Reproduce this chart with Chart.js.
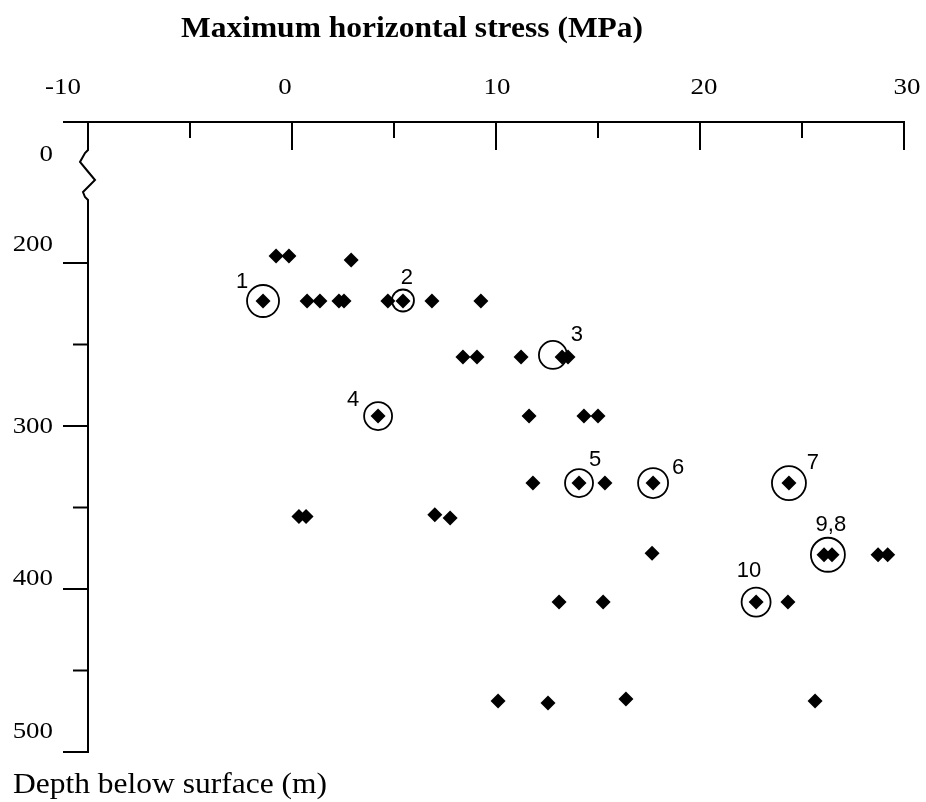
<!DOCTYPE html>
<html><head><meta charset="utf-8">
<script src="https://cdn.jsdelivr.net/npm/chart.js@4.4.1/dist/chart.umd.min.js"></script>
<style>html,body{margin:0;padding:0;background:#fff;} #wrap{width:926px;height:802px;position:relative;}</style>
</head><body><div id="wrap"><canvas id="c"></canvas></div>
<script>
// ---------- data ----------
const stressX = [
  -0.78, -0.15, 2.9,
  -1.42, 0.74, 1.37, 2.3, 2.55, 4.7, 5.44, 6.86, 9.26,
  8.38, 9.07, 11.23, 13.24, 13.53,
  4.22, 11.62, 14.31, 15.0,
  11.81, 14.07, 15.34, 17.70, 24.36,
  0.34, 0.69, 7.0, 7.75,
  17.65, 26.08, 26.47, 28.73, 29.2,
  13.09, 15.25, 22.75, 24.31,
  10.1, 12.55, 16.37, 25.64
];
const depthY = [
  195.7, 195.7, 198.2,
  223.3, 223.3, 223.3, 223.3, 223.3, 223.3, 223.3, 223.3, 223.3,
  257.7, 257.7, 257.7, 257.7, 257.7,
  293.9, 293.9, 293.9, 293.9,
  335, 335, 335, 335, 335,
  355.5, 355.5, 354.5, 356.5,
  378, 379, 379, 379, 379,
  408, 408, 408, 408,
  468.7, 469.9, 467.5, 468.7
];
const circleStress = [-1.42, 5.44, 12.79, 4.22, 14.07, 17.70, 24.36, 26.27, 22.75];
const circleDepth  = [223.3, 223.0, 256.4, 293.9, 335, 335, 335, 379, 408];
const circleLabels = ['1', '2', '3', '4', '5', '6', '7', '9,8', '10'];

const xTickValues = [-10, 0, 10, 20, 30];
const xTickLabels = ['-10', '0', '10', '20', '30'];
const xMinorTicks = [-5, 5, 15, 25];
const yTickValues = [200, 300, 400, 500];
const yTickLabels = ['200', '300', '400', '500'];
const yMinorTicks = [250, 350, 450];
const yBreakLabel = '0';
const xTitle = 'Maximum horizontal stress (MPa)';
const yTitle = 'Depth below surface (m)';

// ---------- styles ----------
const circleRadii = [16, 11, 14, 14, 14, 15, 17, 17, 14.5];
const labelOffsetPx = [[-21,-19],[4,-23],[24,-20],[-25,-16],[16,-23],[25,-15],[24,-20],[3,-30],[-7,-31]];
const xLabelNudge = [-25, -7, 1, 4, 3];
const yLabelNudge = [-18, 1, -10, -20];
const SERIF = '"Liberation Serif","Times New Roman",serif';
const SANS = '"Liberation Sans",Arial,sans-serif';

function txt(ctx, s, x, y, font, align, baseline, sx) {
  ctx.save();
  ctx.font = font; ctx.textAlign = align; ctx.textBaseline = baseline;
  ctx.fillStyle = '#000';
  ctx.translate(x, y); ctx.scale(sx, 1);
  ctx.fillText(s, 0, 0);
  ctx.restore();
}

const axisPlugin = {
  id: 'axisPlugin',
  beforeDatasetsDraw(chart) {
    const ctx = chart.ctx, xs = chart.scales.x, ys = chart.scales.y, ca = chart.chartArea;
    const top = ca.top, ax = ca.left;
    ctx.save();
    ctx.strokeStyle = '#000'; ctx.lineWidth = 2; ctx.lineCap = 'butt';
    ctx.beginPath();
    ctx.moveTo(ax - 25, top); ctx.lineTo(xs.getPixelForValue(30) + 1, top);
    ctx.stroke();
    xTickValues.forEach(v => {
      const p = xs.getPixelForValue(v);
      ctx.beginPath(); ctx.moveTo(p, top); ctx.lineTo(p, top + 28); ctx.stroke();
    });
    xMinorTicks.forEach(v => {
      const p = xs.getPixelForValue(v);
      ctx.beginPath(); ctx.moveTo(p, top); ctx.lineTo(p, top + 16); ctx.stroke();
    });
    ctx.beginPath();
    ctx.moveTo(ax, top);
    const sq = [[0,28],[-3,31],[-8,40],[-3,46],[7,58],[0,65],[-5,70],[-3,75],[0,78]];
    sq.forEach(([dx, dy]) => ctx.lineTo(ax + dx, top + dy));
    ctx.lineTo(ax, ys.getPixelForValue(500) + 1);
    ctx.stroke();
    yTickValues.forEach(v => {
      const p = ys.getPixelForValue(v);
      ctx.beginPath(); ctx.moveTo(ax - 25, p); ctx.lineTo(ax, p); ctx.stroke();
    });
    yMinorTicks.forEach(v => {
      const p = ys.getPixelForValue(v);
      ctx.beginPath(); ctx.moveTo(ax - 15, p); ctx.lineTo(ax, p); ctx.stroke();
    });
    ctx.restore();
  },
  afterDatasetsDraw(chart) {
    const ctx = chart.ctx, xs = chart.scales.x, ys = chart.scales.y, ca = chart.chartArea;
    xTickValues.forEach((v, i) => {
      txt(ctx, xTickLabels[i], xs.getPixelForValue(v) + xLabelNudge[i], 88, '24px ' + SERIF, 'center', 'middle', 1.12);
    });
    yTickValues.forEach((v, i) => {
      txt(ctx, yTickLabels[i], ca.left - 35, ys.getPixelForValue(v) + yLabelNudge[i], '24px ' + SERIF, 'right', 'middle', 1.12);
    });
    txt(ctx, yBreakLabel, ca.left - 35, ca.top + 33, '24px ' + SERIF, 'right', 'middle', 1.12);
    txt(ctx, xTitle, 412, 37, 'bold 30px ' + SERIF, 'center', 'alphabetic', 1.05);
    txt(ctx, yTitle, 13, 793, '30px ' + SERIF, 'left', 'alphabetic', 1.05);
    const meta = chart.getDatasetMeta(1);
    meta.data.forEach((pt, i) => {
      txt(ctx, circleLabels[i], pt.x + labelOffsetPx[i][0], pt.y + labelOffsetPx[i][1], '22px ' + SANS, 'center', 'middle', 1);
    });
  }
};

new Chart(document.getElementById('c'), {
  type: 'scatter',
  data: {
    datasets: [
      {
        data: stressX.map((x, i) => ({ x: x, y: depthY[i] })),
        pointStyle: 'rectRot', pointRadius: 7.5,
        backgroundColor: '#000', borderColor: '#000', borderWidth: 0
      },
      {
        data: circleStress.map((x, i) => ({ x: x, y: circleDepth[i] })),
        pointStyle: 'circle', pointRadius: circleRadii,
        backgroundColor: 'rgba(0,0,0,0)', borderColor: '#000', borderWidth: 1.8
      }
    ]
  },
  options: {
    responsive: true, maintainAspectRatio: false, animation: false, events: [],
    layout: { padding: { left: 88, right: 22, top: 122, bottom: 50 } },
    plugins: { legend: { display: false }, tooltip: { enabled: false } },
    scales: {
      x: { type: 'linear', min: -10, max: 30, display: false },
      y: { type: 'linear', min: 113.5, max: 500, reverse: true, display: false }
    }
  },
  plugins: [axisPlugin]
});
</script>
</body></html>
